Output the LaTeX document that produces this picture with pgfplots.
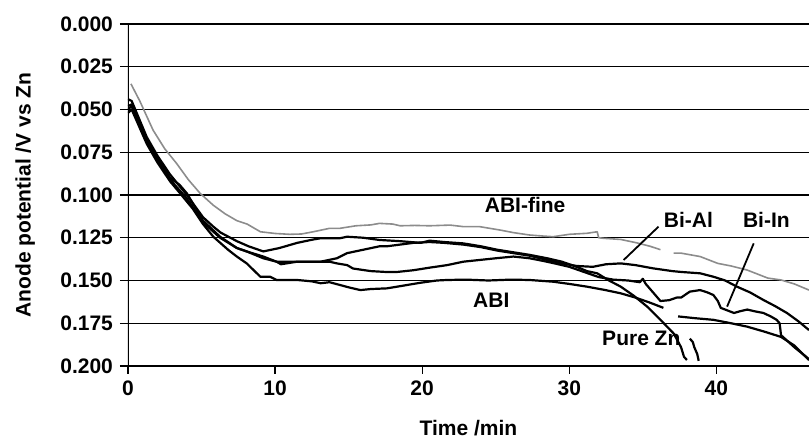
\documentclass[border=0pt]{standalone}
\usepackage{fontspec}
\setmainfont{Liberation Sans}
\usepackage{pgfplots}
\pgfplotsset{compat=1.18}
\begin{document}
\begin{tikzpicture}
\begin{axis}[
  scale only axis, width=340.5pt, height=171pt,
  xmin=0, xmax=46.3, ymin=0, ymax=0.2, y dir=reverse,
  axis line style={draw=none},
  xtick={0,10,20,30,40}, xticklabels={0,10,20,30,40},
  ytick={0,0.025,0.05,0.075,0.1,0.125,0.15,0.175,0.2},
  yticklabels={0.000,0.025,0.050,0.075,0.100,0.125,0.150,0.175,0.200},
  xtick pos=left, ytick pos=left,
  tick align=outside, major tick length=4pt,
  tick style={black, line width=0.6pt},
  ymajorgrids, major grid style={black, line width=0.6pt},
  ticklabel style={font=\fontsize{10.5}{12}\selectfont\bfseries},
  /pgf/number format/assume math mode=true,
  xlabel={Time /min}, ylabel={Anode potential /V vs Zn},
  every axis x label/.style={at={(axis description cs:0.5,-0.181)}, anchor=center, font=\fontsize{10.5}{12}\selectfont\bfseries},
  every axis y label/.style={at={(axis description cs:-0.151,0.5)}, rotate=90, anchor=center, font=\fontsize{10.5}{12}\selectfont\bfseries},
  clip=true,
]
% ABI-fine (gray)
\addplot[black!45, line width=0.8pt, line join=round] coordinates {
(0.2,0.035) (0.8,0.045) (1.7,0.062) (2.5,0.073) (3.3,0.0815) (4.1,0.091) (4.9,0.099) (5.8,0.106) (6.6,0.111) (7.4,0.115) (8.1,0.117) (9.0,0.1215) (10.0,0.1225) (11.0,0.123) (11.8,0.1228) (12.6,0.1215) (13.7,0.1195) (14.4,0.1195) (15.5,0.118) (16.5,0.1175) (17.1,0.1166) (18.0,0.117) (18.5,0.118) (19.5,0.1178) (20.5,0.118) (21.9,0.1176) (22.8,0.1185) (23.9,0.1185) (25.3,0.1205) (26.2,0.122) (27.3,0.1234) (28.2,0.124) (28.9,0.1244) (30.0,0.123) (31.2,0.1224) (31.9,0.1215) (32.0,0.1250) (32.3,0.1253) (33.5,0.126) (34.6,0.128) (35.5,0.130) (36.2,0.132)
};
\addplot[black!45, line width=0.8pt, line join=round] coordinates {
(37.1,0.134) (37.6,0.134) (38.9,0.136) (39.8,0.139) (40.1,0.140) (41.0,0.1415) (42.1,0.1439) (43.5,0.1486) (44.4,0.1497) (45.3,0.152) (46.3,0.1556)
};
% Pure Zn
\addplot[black, line width=1.1pt, line join=round] coordinates {
(0,0.044) (0.25,0.045) (1.27,0.066) (2.0,0.077) (2.86,0.088) (4.0,0.100) (5.1,0.113) (5.8,0.1185) (6.3,0.122) (7.4,0.127) (8.2,0.130) (9.2,0.133) (10.3,0.131) (11.5,0.128) (12.6,0.126) (13.1,0.1253) (14.4,0.1253) (14.9,0.1244) (16.0,0.125) (17.1,0.1263) (18.5,0.127) (19.9,0.128) (20.5,0.1267) (21.5,0.1275) (22.8,0.1283) (24.0,0.130) (25.1,0.132) (26.2,0.1335) (27.3,0.135) (28.5,0.137) (29.5,0.139) (30.5,0.142) (31.2,0.1445) (31.9,0.1458) (32.7,0.150) (33.5,0.1536) (34.4,0.159) (35.3,0.1653) (36.2,0.173) (37.1,0.181) (37.6,0.189) (37.8,0.1946) (38.0,0.1965)
};
\addplot[black, line width=1.1pt, line join=round] coordinates {
(38.2,0.184) (38.4,0.186) (38.5,0.189) (38.7,0.193) (38.8,0.197)
};
% Bi-Al
\addplot[black, line width=1.1pt, line join=round] coordinates {
(0,0.048) (0.25,0.047) (1.27,0.068) (2.86,0.090) (3.5,0.094) (4.0,0.099) (5.1,0.115) (6.26,0.1244) (7.4,0.131) (8.07,0.133) (9.2,0.136) (10.1,0.139) (11.5,0.139) (12.6,0.139) (13.1,0.139) (14.2,0.137) (14.9,0.134) (16.0,0.132) (17.1,0.130) (17.6,0.130) (18.5,0.129) (19.4,0.128) (20.5,0.1275) (21.5,0.128) (22.8,0.129) (24.0,0.1305) (25.1,0.1325) (26.2,0.134) (27.3,0.1355) (28.5,0.138) (29.5,0.140) (30.5,0.1415) (31.6,0.142) (32.5,0.1405) (33.5,0.140) (34.5,0.141) (35.7,0.1429) (37.0,0.1445) (37.6,0.145) (38.9,0.1458) (39.8,0.1478) (40.6,0.150) (41.4,0.1536) (42.3,0.157) (43.2,0.1614) (44.0,0.165) (44.8,0.169) (45.6,0.174) (46.3,0.179)
};
% Bi-In
\addplot[black, line width=1.1pt, line join=round] coordinates {
(0,0.050) (0.25,0.048) (1.27,0.069) (2.86,0.091) (4.0,0.102) (5.1,0.116) (6.26,0.125) (7.4,0.131) (8.07,0.133) (9.2,0.137) (10.1,0.139) (10.4,0.1405) (11.5,0.139) (12.6,0.139) (13.7,0.139) (14.2,0.140) (14.9,0.141) (15.3,0.143) (16.5,0.1445) (17.5,0.145) (18.3,0.145) (19.4,0.144) (20.5,0.1425) (21.7,0.141) (22.8,0.139) (23.9,0.138) (25.0,0.137) (26.2,0.136) (27.3,0.137) (28.2,0.1385) (29.0,0.140) (30.0,0.142) (31.0,0.145) (32.0,0.148) (33.0,0.1495) (34.0,0.150) (34.8,0.151) (35.0,0.149) (35.2,0.152) (35.7,0.157) (36.2,0.162) (36.8,0.1615) (37.3,0.160) (37.6,0.160) (38.2,0.1565) (38.9,0.1556) (39.4,0.157) (39.8,0.1585) (40.1,0.162) (40.3,0.166) (41.2,0.169) (41.6,0.168) (42.1,0.167) (42.6,0.168) (43.2,0.169) (43.7,0.171) (44.1,0.173) (44.3,0.175) (44.4,0.182) (45.3,0.189) (46.3,0.196)
};
% ABI
\addplot[black, line width=1.1pt, line join=round] coordinates {
(0,0.052) (0.25,0.050) (1.27,0.070) (2.0,0.081) (2.86,0.092) (3.54,0.099) (4.4,0.108) (5.1,0.117) (5.8,0.1244) (6.8,0.132) (7.4,0.136) (8.07,0.140) (9.0,0.1478) (9.66,0.1478) (10.1,0.1497) (11.5,0.1497) (12.5,0.1505) (13.1,0.1516) (13.7,0.151) (14.4,0.1526) (15.0,0.154) (15.8,0.1556) (16.5,0.155) (17.6,0.1546) (18.3,0.1536) (19.9,0.1513) (21.0,0.150) (21.7,0.1497) (23.0,0.1495) (24.5,0.150) (26.0,0.1495) (27.3,0.1497) (28.9,0.1507) (30.0,0.152) (31.2,0.1536) (32.4,0.1555) (33.5,0.1575) (34.5,0.160) (35.5,0.163) (36.4,0.166)
};
\addplot[black, line width=1.1pt, line join=round] coordinates {
(37.4,0.171) (38.5,0.172) (39.8,0.173) (41.0,0.175) (42.1,0.177) (43.3,0.180) (44.4,0.183) (45.3,0.188) (46.3,0.1965)
};
\draw[black, line width=0.6pt] (axis cs:0,0) -- (axis cs:0,0.2);
\draw[black, line width=0.9pt] (axis cs:36.07,0.1185) -- (axis cs:33.7,0.138);
\draw[black, line width=0.9pt] (axis cs:42.54,0.1283) -- (axis cs:40.73,0.1653);
\node[font=\fontsize{10.5}{12}\selectfont\bfseries] at (axis cs:27.0,0.106) {ABI-fine};
\node[font=\fontsize{10.5}{12}\selectfont\bfseries] at (axis cs:38.1,0.1143) {Bi-Al};
\node[font=\fontsize{10.5}{12}\selectfont\bfseries] at (axis cs:43.4,0.1143) {Bi-In};
\node[font=\fontsize{10.5}{12}\selectfont\bfseries] at (axis cs:24.7,0.1617) {ABI};
\node[font=\fontsize{10.5}{12}\selectfont\bfseries] at (axis cs:34.9,0.184) {Pure Zn};
\end{axis}
\pgfresetboundingbox
\path ([shift={(-64pt,-38pt)}]current axis.south west) rectangle ([shift={(0pt,12pt)}]current axis.north east);
\end{tikzpicture}
\end{document}
